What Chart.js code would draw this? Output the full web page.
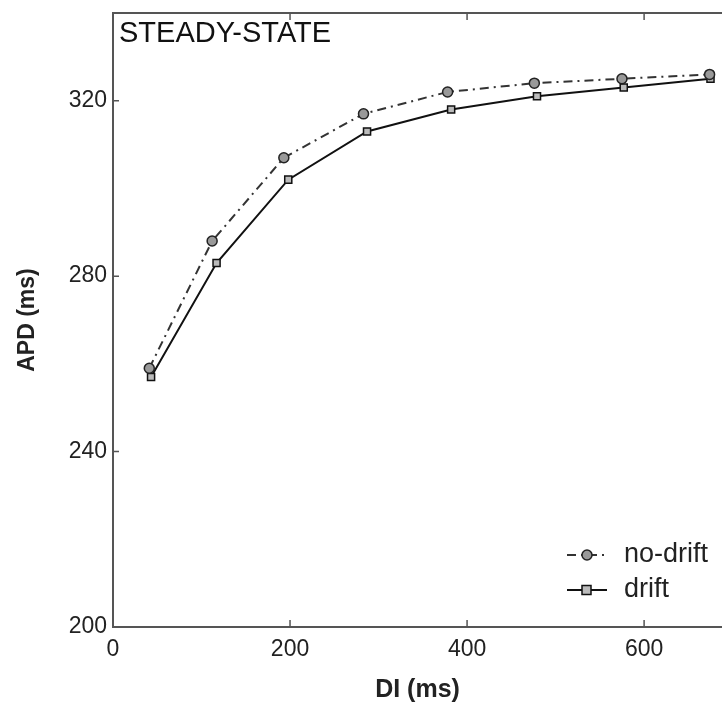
<!DOCTYPE html>
<html>
<head>
<meta charset="utf-8">
<script src="https://cdn.jsdelivr.net/npm/chart.js@4"></script>
<style>
  html, body { margin: 0; padding: 0; background: #fff; }
  #wrap { width: 722px; height: 708px; }
</style>
</head>
<body>
<div id="wrap"><canvas id="apdChart" width="722" height="708"></canvas></div>
<script>
// values (DI, APD in ms)
const diNoDrift = [41, 112, 193, 283, 378, 476, 575, 674];
const apdNoDrift = [259, 288, 307, 317, 322, 324, 325, 326];
const diDrift = [43, 117, 198, 287, 382, 479, 577, 675];
const apdDrift = [257, 283, 302, 313, 318, 321, 323, 325];
const xTicks = [0, 200, 400, 600];
const yTicks = [200, 240, 280, 320];
const seriesNames = ['no-drift', 'drift'];
const panelTitle = 'STEADY-STATE';

const FONT = '"Liberation Sans", Arial, Helvetica, sans-serif';
const INK = '#222';
const AXIS = '#555';

function toPoints(xs, ys) {
    return xs.map((x, i) => ({ x: x, y: ys[i] }));
}

// MATLAB-ish frame: top line, inward ticks, panel label, legend in the corner
const framePlugin = {
    id: 'frame',
    afterDraw(chart) {
        const ctx = chart.ctx;
        const area = chart.chartArea;
        const xs = chart.scales.x;
        const ys = chart.scales.y;
        ctx.save();
        ctx.strokeStyle = AXIS;
        ctx.lineWidth = 2;
        ctx.beginPath();
        ctx.moveTo(area.left, area.top);
        ctx.lineTo(chart.width, area.top);
        ctx.stroke();

        ctx.lineWidth = 1.5;
        ctx.beginPath();
        xTicks.forEach(v => {
            if (v === 0) return;
            const px = xs.getPixelForValue(v);
            ctx.moveTo(px, area.bottom);
            ctx.lineTo(px, area.bottom - 7);
            ctx.moveTo(px, area.top);
            ctx.lineTo(px, area.top + 7);
        });
        yTicks.forEach(v => {
            if (v === 200) return;
            const py = ys.getPixelForValue(v);
            ctx.moveTo(area.left, py);
            ctx.lineTo(area.left + 6, py);
        });
        ctx.stroke();

        ctx.fillStyle = '#111';
        ctx.font = '29px ' + FONT;
        ctx.textBaseline = 'top';
        ctx.textAlign = 'left';
        ctx.fillText(panelTitle, area.left + 6, 19);

        // legend
        const rows = [555, 590];
        chart.data.datasets.forEach((ds, i) => {
            const y = rows[i];
            ctx.strokeStyle = ds.borderColor;
            ctx.lineWidth = ds.borderWidth;
            ctx.setLineDash(ds.borderDash || []);
            ctx.beginPath();
            ctx.moveTo(567, y);
            ctx.lineTo(607, y);
            ctx.stroke();
            ctx.setLineDash([]);
            ctx.fillStyle = ds.pointBackgroundColor;
            ctx.strokeStyle = ds.pointBorderColor;
            ctx.lineWidth = 1.5;
            ctx.beginPath();
            if (ds.pointStyle === 'rect') {
                ctx.rect(582, y - 4.5, 9, 9);
            } else {
                ctx.arc(587, y, 5, 0, Math.PI * 2);
            }
            ctx.fill();
            ctx.stroke();
            ctx.fillStyle = INK;
            ctx.font = '27px ' + FONT;
            ctx.textBaseline = 'middle';
            ctx.fillText(ds.label, 624, y);
        });
        ctx.restore();
    }
};

const ctx = document.getElementById('apdChart').getContext('2d');
new Chart(ctx, {
    type: 'line',
    data: {
        datasets: [{
            label: seriesNames[0],
            data: toPoints(diNoDrift, apdNoDrift),
            borderColor: '#333',
            borderWidth: 2,
            borderDash: [9, 5, 2, 5],
            pointStyle: 'circle',
            pointRadius: 5,
            pointBackgroundColor: '#999',
            pointBorderColor: '#222',
            pointBorderWidth: 1.5,
            tension: 0
        }, {
            label: seriesNames[1],
            data: toPoints(diDrift, apdDrift),
            borderColor: '#111',
            borderWidth: 2,
            pointStyle: 'rect',
            pointRadius: 5,
            pointBackgroundColor: '#bbb',
            pointBorderColor: '#111',
            pointBorderWidth: 1.5,
            tension: 0
        }]
    },
    options: {
        responsive: false,
        animation: false,
        layout: { autoPadding: false, padding: { top: 13, right: 0, bottom: 0, left: 0 } },
        plugins: {
            legend: { display: false },
            tooltip: { enabled: false }
        },
        scales: {
            x: {
                type: 'linear',
                min: 0,
                max: 688,
                afterBuildTicks: s => { s.ticks = xTicks.map(v => ({ value: v })); },
                afterFit: s => { s.height = 81; s.paddingLeft = 0; s.paddingRight = 0; },
                grid: { display: false, drawTicks: false },
                border: { display: true, color: AXIS, width: 2 },
                ticks: {
                    padding: 9,
                    color: INK,
                    font: { family: FONT, size: 23 },
                    maxRotation: 0
                },
                title: {
                    display: true,
                    text: 'DI (ms)',
                    color: INK,
                    font: { family: FONT, size: 25, weight: 'bold' },
                    padding: { top: 0, bottom: 3 }
                }
            },
            y: {
                min: 200,
                max: 340,
                afterBuildTicks: s => { s.ticks = yTicks.map(v => ({ value: v })); },
                afterFit: s => { s.width = 113; s.paddingTop = 0; s.paddingBottom = 0; },
                grid: { display: false, drawTicks: false },
                border: { display: true, color: AXIS, width: 2 },
                ticks: {
                    padding: 6,
                    color: INK,
                    font: { family: FONT, size: 23 }
                },
                title: {
                    display: true,
                    text: 'APD (ms)',
                    color: INK,
                    font: { family: FONT, size: 23, weight: 'bold' },
                    padding: { top: 14, bottom: 0 }
                }
            }
        }
    },
    plugins: [framePlugin]
});
</script>
</body>
</html>
